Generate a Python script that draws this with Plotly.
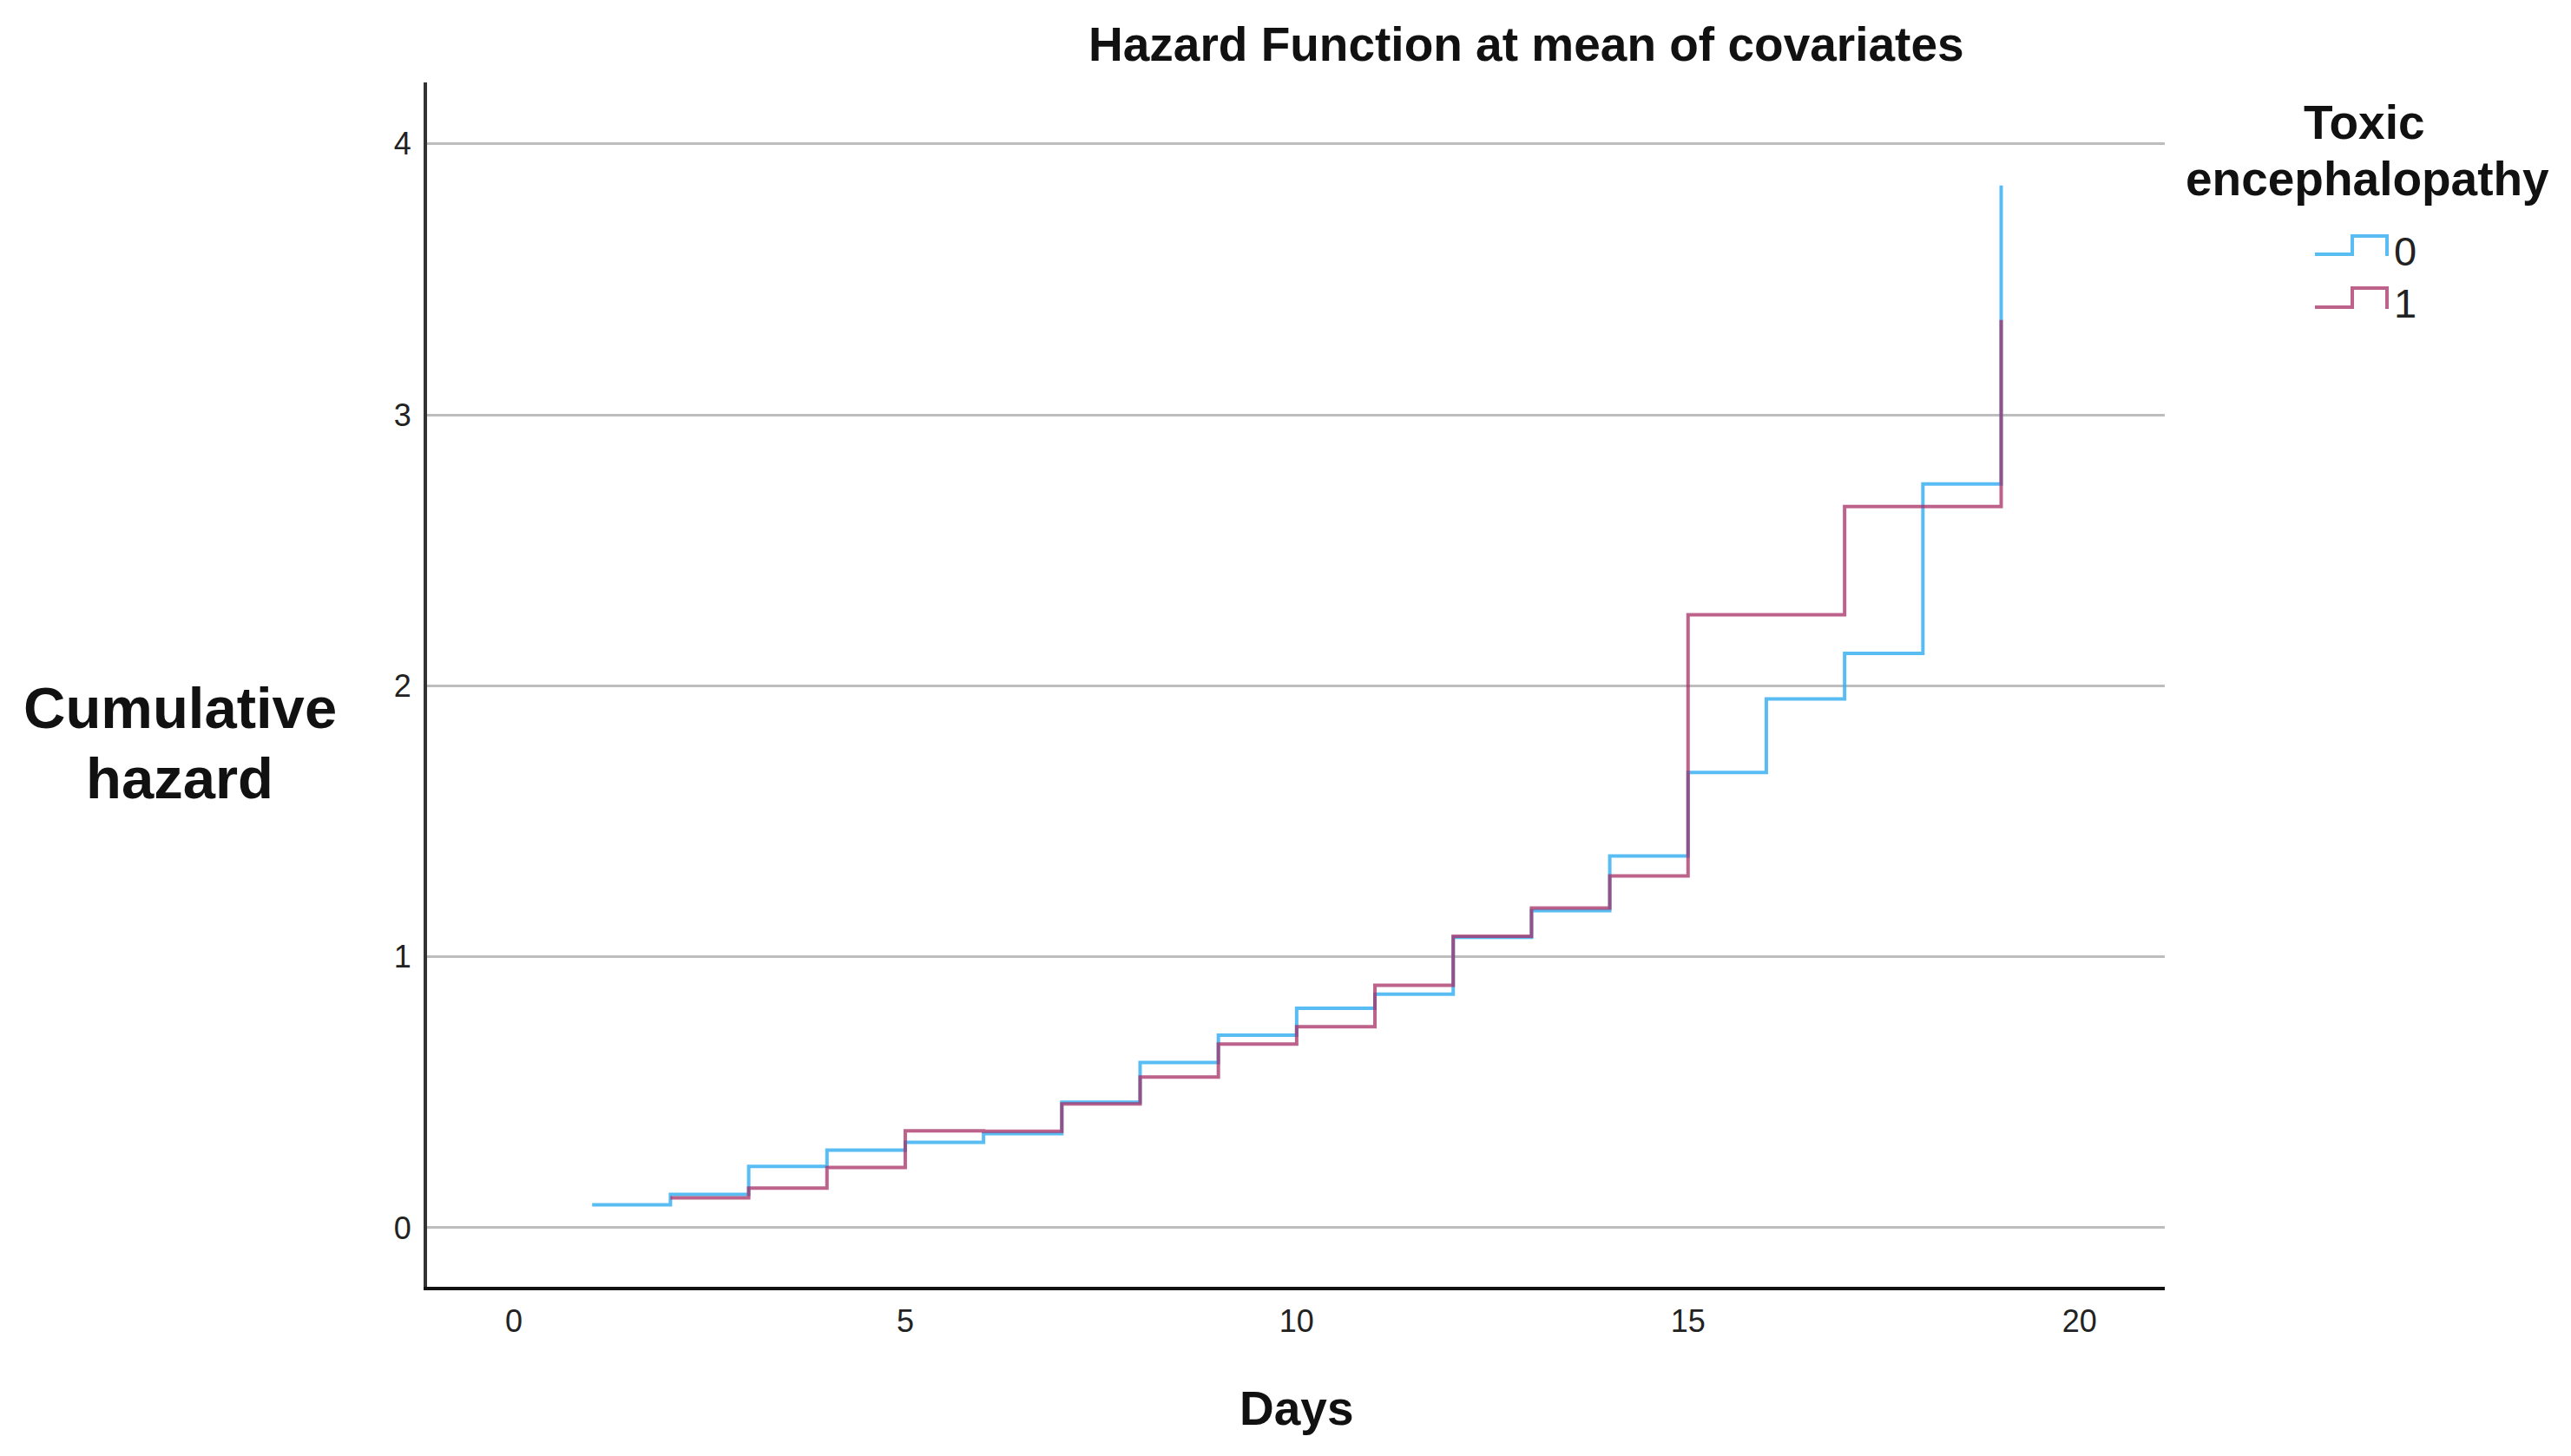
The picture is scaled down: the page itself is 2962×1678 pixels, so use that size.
import plotly.graph_objects as go

# ---- data ----
days_0 = [1, 2, 3, 4, 5, 6, 7, 8, 9, 10, 11, 12, 13, 14, 15, 16, 17, 18, 19]
haz_0 = [0.085, 0.123, 0.226, 0.286, 0.315, 0.347, 0.463, 0.610, 0.711, 0.810, 0.862,
         1.072, 1.170, 1.372, 1.680, 1.952, 2.120, 2.745, 3.847]
days_1 = [2, 3, 4, 5, 6, 7, 8, 9, 10, 11, 12, 13, 14, 15, 16, 17, 18, 19]
haz_1 = [0.110, 0.146, 0.222, 0.358, 0.356, 0.457, 0.556, 0.678, 0.742, 0.895,
         1.076, 1.180, 1.298, 2.262, 2.262, 2.662, 2.662, 3.350]
x_ticks = [0, 5, 10, 15, 20]
y_ticks = [0, 1, 2, 3, 4]
group_labels = ["0", "1"]
group_colors = ["rgba(60,178,242,0.85)", "rgba(165,45,100,0.75)"]

W, H = 2962, 1678
L, R, T, B = 492, 2494, 95, 1483  # plot area in pixels
FONT = "Liberation Sans, Arial, sans-serif"


def px(xp):
    return (xp - L) / (R - L)


def py(yp):
    return (B - yp) / (B - T)


fig = go.Figure()
for xs, ys, name, col in [(days_0, haz_0, group_labels[0], group_colors[0]),
                          (days_1, haz_1, group_labels[1], group_colors[1])]:
    fig.add_trace(go.Scatter(x=xs, y=ys, mode="lines", name=name,
                             line=dict(shape="hv", color=col, width=4),
                             showlegend=False, hoverinfo="x+y"))

annotations = [
    dict(text="Hazard Function at mean of covariates", x=px(1758), y=py(51),
         font=dict(size=55, weight="bold")),
    dict(text="Cumulative", x=px(207), y=py(816), font=dict(size=67, weight="bold")),
    dict(text="hazard", x=px(207), y=py(896), font=dict(size=67, weight="bold")),
    dict(text="Days", x=px(1493), y=py(1623), font=dict(size=55, weight="bold")),
    dict(text="Toxic", x=px(2724), y=py(141), font=dict(size=55, weight="bold")),
    dict(text="encephalopathy", x=px(2727), y=py(206), font=dict(size=55, weight="bold")),
    dict(text=group_labels[0], x=px(2756), y=py(290), xanchor="left",
         font=dict(size=47, weight="normal", color="#222222")),
    dict(text=group_labels[1], x=px(2756), y=py(350), xanchor="left",
         font=dict(size=47, weight="normal", color="#222222")),
]
for a in annotations:
    a.setdefault("xanchor", "center")
    a.update(xref="paper", yref="paper", yanchor="middle", showarrow=False)
    a["font"].update(family=FONT)
    a["font"].setdefault("color", "#111111")


def glyph(y_low, y_high, col):
    p = (f"M {px(2667)},{py(y_low)} L {px(2710)},{py(y_low)} L {px(2710)},{py(y_high)} "
         f"L {px(2750)},{py(y_high)} L {px(2750)},{py(y_low + 2)}")
    return dict(type="path", xref="paper", yref="paper", path=p,
                line=dict(color=col, width=4))


shapes = [glyph(293, 272, group_colors[0]), glyph(354, 332, group_colors[1])]

fig.update_layout(
    width=W, height=H,
    margin=dict(l=L, r=W - R, t=T, b=H - B, pad=0),
    paper_bgcolor="white", plot_bgcolor="white",
    font=dict(family=FONT, color="#222222"),
    annotations=annotations, shapes=shapes, showlegend=False,
    xaxis=dict(range=[-1.109, 21.09], tickvals=x_ticks, showgrid=False, zeroline=False,
               showline=True, linecolor="#111111", linewidth=4, ticks="",
               tickfont=dict(size=36, color="#222222"), ticklabelstandoff=5),
    yaxis=dict(range=[-0.218, 4.227], tickvals=y_ticks, showgrid=True,
               gridcolor="#bdbdbd", gridwidth=3, zeroline=False,
               showline=True, linecolor="#333333", linewidth=4, ticks="",
               tickfont=dict(size=36, color="#222222"), ticklabelstandoff=7),
)

fig.write_html("out.html", config={"displayModeBar": False},
               post_script="document.body.style.margin='0px';document.body.style.overflow='hidden';")
